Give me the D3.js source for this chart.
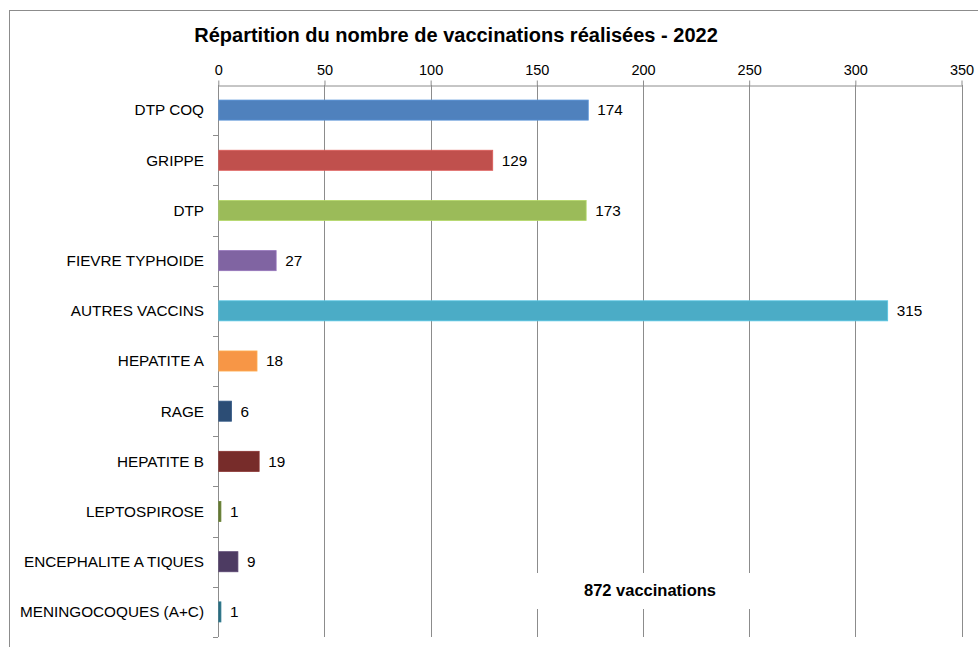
<!DOCTYPE html>
<html>
<head>
<meta charset="utf-8">
<script src="https://cdn.jsdelivr.net/npm/d3@7"></script>
<style>
  html, body { margin: 0; padding: 0; background: #fff; }
  svg { display: block; font-family: "Liberation Sans", Arial, sans-serif; }
</style>
</head>
<body>
<svg id="chart" width="978" height="647"></svg>
<script>
// Vaccinations by type, 2022
const categories = ["DTP COQ", "GRIPPE", "DTP", "FIEVRE TYPHOIDE", "AUTRES VACCINS", "HEPATITE A",
  "RAGE", "HEPATITE B", "LEPTOSPIROSE", "ENCEPHALITE A TIQUES", "MENINGOCOQUES (A+C)"];
const values = [174, 129, 173, 27, 315, 18, 6, 19, 1, 9, 1];
const colors = ["#4F81BD", "#C0504D", "#9BBB59", "#8064A2", "#4BACC6", "#F79646",
  "#2C4D75", "#772C2A", "#5F7530", "#4D3B62", "#276A7C"];
const xTicks = [0, 50, 100, 150, 200, 250, 300, 350];
const titleText = "Répartition du nombre de vaccinations réalisées - 2022";
const totalText = "872 vaccinations";

const svg = d3.select("#chart");
const plotLeft = 218.3, plotRight = 961.5, plotTop = 85, plotBottom = 637;

// Outer frame
svg.append("rect")
  .attr("x", 9.5).attr("y", 10.5)
  .attr("width", 1000).attr("height", 700)
  .attr("fill", "#fff").attr("stroke", "#8c8c8c").attr("stroke-width", 1);

const x = d3.scaleLinear().domain([0, 350]).range([plotLeft, plotRight]);
const y = d3.scaleBand().domain(categories).range([plotTop, plotBottom]).paddingInner(0.6).paddingOuter(0.3);
const yb = d3.scaleBand().domain(categories).range([plotTop, plotBottom]);

// Vertical gridlines
svg.append("g").selectAll("line")
  .data(xTicks.slice(1))
  .join("line")
  .attr("x1", d => Math.round(x(d)) + 0.5).attr("x2", d => Math.round(x(d)) + 0.5)
  .attr("y1", plotTop).attr("y2", plotBottom)
  .attr("stroke", "#8c8c8c").attr("stroke-width", 1);

// Top axis
const xAxis = d3.axisTop(x).tickValues(xTicks).tickSize(5).tickSizeOuter(0).tickPadding(6);
const gx = svg.append("g").attr("transform", `translate(0,${plotTop + 0.5})`).call(xAxis);
gx.select(".domain").attr("stroke", "#8c8c8c");
gx.selectAll(".tick line").attr("stroke", "#8c8c8c");
gx.selectAll(".tick text").attr("fill", "#000").attr("font-size", 14.5)
  .attr("font-family", "Liberation Sans, Arial, sans-serif");

// Left axis with ticks between categories
const gy = svg.append("g");
gy.append("line")
  .attr("x1", Math.round(plotLeft) + 0.5).attr("x2", Math.round(plotLeft) + 0.5)
  .attr("y1", plotTop).attr("y2", plotBottom)
  .attr("stroke", "#8c8c8c");
gy.selectAll("line.sep")
  .data(categories)
  .join("line").attr("class", "sep")
  .attr("x1", Math.round(plotLeft) - 5).attr("x2", Math.round(plotLeft))
  .attr("y1", d => Math.round(yb(d) + yb.bandwidth()) + 0.5)
  .attr("y2", d => Math.round(yb(d) + yb.bandwidth()) + 0.5)
  .attr("stroke", "#8c8c8c");
gy.selectAll("text")
  .data(categories)
  .join("text")
  .attr("x", 204)
  .attr("y", d => yb(d) + yb.bandwidth() / 2)
  .attr("dy", "0.35em")
  .attr("text-anchor", "end")
  .attr("font-size", 15.3)
  .attr("fill", "#000")
  .text(d => d);

// Bars
svg.append("g").selectAll("rect")
  .data(categories)
  .join("rect")
  .attr("x", x(0) + 0.5)
  .attr("y", d => y(d))
  .attr("width", (d, i) => Math.max(1.5, x(values[i]) - x(0)))
  .attr("height", y.bandwidth())
  .attr("fill", (d, i) => colors[i])
  .attr("stroke", (d, i) => d3.color(colors[i]).brighter(0.4))
  .attr("stroke-width", 0.8);

// Value labels
svg.append("g").selectAll("text")
  .data(categories)
  .join("text")
  .attr("x", (d, i) => x(values[i]) + 9.5)
  .attr("y", d => y(d) + y.bandwidth() / 2)
  .attr("dy", "0.35em")
  .attr("font-size", 15.3)
  .attr("fill", "#000")
  .text((d, i) => values[i]);

// Title
svg.append("text")
  .attr("x", 456).attr("y", 42)
  .attr("text-anchor", "middle")
  .attr("font-size", 20).attr("font-weight", "bold")
  .attr("fill", "#000")
  .text(titleText);

// Total box
svg.append("rect")
  .attr("x", 530).attr("y", 573)
  .attr("width", 240).attr("height", 36)
  .attr("fill", "#fff");
svg.append("text")
  .attr("x", 650).attr("y", 590)
  .attr("dy", "0.35em")
  .attr("text-anchor", "middle")
  .attr("font-size", 16.5).attr("font-weight", "bold")
  .attr("fill", "#000")
  .text(totalText);
</script>
</body>
</html>
